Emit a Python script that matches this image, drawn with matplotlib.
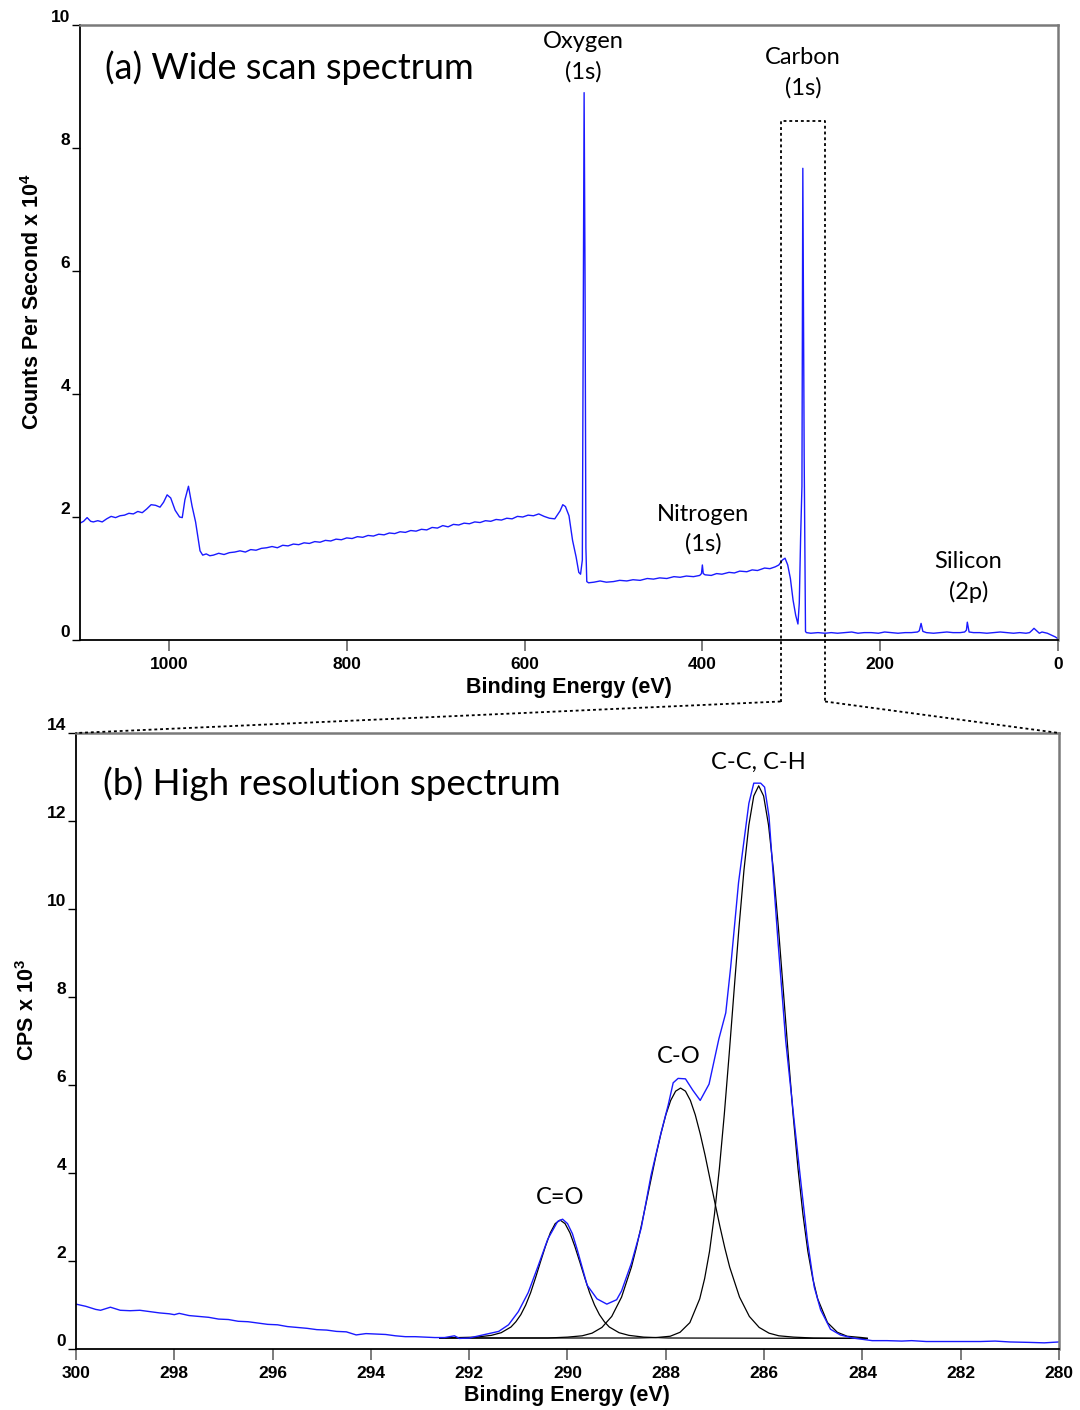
import numpy as np
import matplotlib.pyplot as plt
from matplotlib.lines import Line2D

plt.rcParams['font.family'] = ['Liberation Sans', 'DejaVu Sans']
plt.rcParams['mathtext.fontset'] = 'custom'
plt.rcParams['mathtext.bf'] = 'Liberation Sans:bold'
plt.rcParams['mathtext.rm'] = 'Liberation Sans:bold'

# ---- wide scan: (binding energy eV, counts per second x 1e4) ----
wide_high = [(1100, 1.90), (1096, 1.93), (1092, 1.99), (1088, 1.93), (1085, 1.92),
             (1080, 1.94), (1075, 1.92), (1070, 1.97), (1065, 2.01), (1060, 1.99),
             (1055, 2.02), (1050, 2.03), (1045, 2.06), (1040, 2.05), (1035, 2.09),
             (1030, 2.07), (1025, 2.13), (1020, 2.20), (1015, 2.19), (1010, 2.16),
             (1006, 2.24), (1002, 2.36), (998, 2.31), (993, 2.11), (988, 2.00),
             (985, 1.99), (982, 2.28), (978, 2.50), (974, 2.18), (970, 1.92),
             (965, 1.45), (962, 1.38), (958, 1.40), (954, 1.37)]
wide_mid = [(950, 1.38), (944, 1.41), (938, 1.39), (932, 1.42), (926, 1.43), (920, 1.45),
            (914, 1.43), (908, 1.47), (902, 1.46), (896, 1.49), (890, 1.50), (884, 1.52),
            (878, 1.50), (872, 1.54), (866, 1.53), (860, 1.56), (854, 1.55), (848, 1.58),
            (842, 1.57), (836, 1.60), (830, 1.59), (824, 1.62), (818, 1.61), (812, 1.64),
            (806, 1.63), (800, 1.66), (794, 1.65), (788, 1.68), (782, 1.67), (776, 1.70),
            (770, 1.69), (764, 1.72), (758, 1.71), (752, 1.74), (746, 1.73), (740, 1.76),
            (734, 1.75), (728, 1.78), (722, 1.77), (716, 1.80), (710, 1.79), (704, 1.83),
            (698, 1.82), (692, 1.86), (686, 1.84), (680, 1.88), (674, 1.87), (668, 1.90),
            (662, 1.89), (656, 1.92), (650, 1.91), (644, 1.94), (638, 1.93), (632, 1.96),
            (626, 1.95), (620, 1.98), (614, 1.97), (608, 2.01), (602, 2.00), (596, 2.03),
            (590, 2.02), (584, 2.05), (578, 2.01), (572, 1.98), (566, 1.97), (560, 2.10),
            (557, 2.20), (554, 2.17), (550, 2.02), (546, 1.62), (542, 1.35), (539, 1.10),
            (537, 1.07), (535, 1.30), (534, 5.00), (533, 8.90), (532, 6.00), (531, 1.50),
            (530, 0.95), (528, 0.93)]
wide_low = [(522, 0.94), (515, 0.96), (508, 0.94), (500, 0.95), (493, 0.97), (485, 0.96),
            (478, 0.98), (470, 0.97), (462, 1.00), (455, 0.99), (448, 1.01), (440, 1.00),
            (432, 1.03), (425, 1.02), (418, 1.04), (410, 1.03), (403, 1.05), (401, 1.08),
            (400, 1.22), (399, 1.08), (397, 1.06), (390, 1.05), (384, 1.08), (378, 1.07),
            (370, 1.10), (364, 1.09), (358, 1.12), (350, 1.11), (344, 1.14), (338, 1.13),
            (330, 1.17), (324, 1.16), (318, 1.19), (314, 1.22), (310, 1.30), (307, 1.33),
            (304, 1.22), (301, 1.00), (298, 0.65), (295, 0.40), (292.5, 0.26), (291, 0.60),
            (289.5, 1.66), (288.0, 2.50), (287.0, 7.67), (285.5, 3.00), (284.0, 0.14),
            (283, 0.12), (278, 0.11), (270, 0.12), (262, 0.11), (255, 0.12), (248, 0.11),
            (240, 0.12), (232, 0.13), (225, 0.11), (218, 0.12), (210, 0.12), (202, 0.11),
            (195, 0.13), (188, 0.12), (180, 0.11), (172, 0.12), (165, 0.12), (158, 0.13),
            (156, 0.15), (154, 0.27), (152, 0.14), (148, 0.12), (140, 0.11), (132, 0.12),
            (125, 0.13), (118, 0.12), (110, 0.12), (105, 0.13), (103, 0.16), (102, 0.29),
            (100, 0.13), (95, 0.12), (88, 0.12), (80, 0.11), (72, 0.12), (65, 0.13),
            (58, 0.12), (50, 0.11), (43, 0.12), (36, 0.11), (32, 0.12), (29, 0.16),
            (27, 0.19), (24, 0.15), (21, 0.11), (18, 0.13), (15, 0.12), (12, 0.11),
            (9, 0.09), (6, 0.07), (3, 0.05), (1, 0.03), (0, 0.02)]

# ---- high resolution C 1s (binding energy eV, CPS x 1e3) ----
hr_be = [300.0, 299.8, 299.6, 299.5, 299.3, 299.1, 298.9, 298.7, 298.5, 298.3, 298.1, 298.0,
         297.9, 297.7, 297.5, 297.3, 297.1, 296.9, 296.7, 296.5, 296.3, 296.1, 295.9, 295.7,
         295.5, 295.3, 295.1, 294.9, 294.7, 294.5, 294.3, 294.1, 293.9, 293.7, 293.5, 293.3,
         293.1, 292.9, 292.7, 292.5, 292.3, 292.2, 292.0, 291.8, 291.6, 291.4, 291.2, 291.0,
         290.8, 290.6, 290.4, 290.2, 290.1, 290.0, 289.9, 289.8, 289.6, 289.4, 289.2, 289.0,
         288.9, 288.7, 288.5, 288.3, 288.1, 287.95, 287.85, 287.75, 287.6, 287.45, 287.3,
         287.12, 286.92, 286.78, 286.68, 286.52, 286.31, 286.21, 286.07, 285.99, 285.9,
         285.72, 285.56, 285.39, 285.25, 285.12, 284.98, 284.85, 284.65, 284.45, 284.2, 284.0,
         283.8, 283.5, 283.2, 283.0, 282.7, 282.4, 282.0, 281.6, 281.3, 281.0, 280.6, 280.3,
         280.0]
hr_cps = [1.02, 0.97, 0.90, 0.88, 0.95, 0.88, 0.87, 0.88, 0.85, 0.82, 0.80, 0.78,
          0.81, 0.76, 0.74, 0.72, 0.68, 0.67, 0.63, 0.62, 0.59, 0.56, 0.55, 0.51,
          0.49, 0.47, 0.44, 0.43, 0.40, 0.39, 0.32, 0.35, 0.34, 0.33, 0.30, 0.28,
          0.28, 0.27, 0.26, 0.26, 0.30, 0.24, 0.25, 0.30, 0.35, 0.40, 0.55, 0.85,
          1.28, 1.88, 2.50, 2.90, 2.95, 2.85, 2.62, 2.25, 1.45, 1.14, 1.02, 1.12,
          1.32, 1.95, 2.75, 3.95, 4.90, 5.55, 6.05, 6.15, 6.14, 5.88, 5.65,
          6.02, 7.05, 7.64, 8.68, 10.6, 12.4, 12.86, 12.86, 12.77, 12.1,
          9.3, 7.0, 5.2, 3.77, 2.48, 1.41, 0.89, 0.45, 0.32, 0.25, 0.22,
          0.19, 0.19, 0.18, 0.19, 0.17, 0.17, 0.17, 0.17, 0.18, 0.16, 0.15, 0.14,
          0.16]

# fitted components
co2_be = [292.6, 291.85, 291.55, 291.35, 291.15, 291.05, 290.95, 290.85, 290.75, 290.65,
          290.55, 290.45, 290.35, 290.25, 290.15, 290.05, 289.95, 289.85, 289.75, 289.65,
          289.55, 289.45, 289.35, 289.25, 289.15, 288.95, 288.75, 288.45, 287.95, 283.9]
co2_cps = [0.25, 0.27, 0.31, 0.37, 0.50, 0.62, 0.78, 1.00, 1.28, 1.62,
           1.98, 2.33, 2.64, 2.85, 2.93, 2.85, 2.64, 2.33, 1.98, 1.62,
           1.28, 1.00, 0.78, 0.62, 0.50, 0.37, 0.31, 0.27, 0.25, 0.24]

co_be = [292.6, 290.4, 290.0, 289.7, 289.5, 289.3, 289.1, 288.9, 288.7, 288.6, 288.5, 288.4,
         288.3, 288.2, 288.1, 288.0, 287.9, 287.8, 287.7, 287.6, 287.5, 287.4, 287.3, 287.2,
         287.1, 287.0, 286.9, 286.8, 286.7, 286.5, 286.3, 286.1, 285.9, 285.7, 285.4, 285.0,
         283.9]
co_cps = [0.25, 0.25, 0.27, 0.30, 0.36, 0.49, 0.74, 1.18, 1.86, 2.30, 2.79, 3.32,
          3.86, 4.40, 4.89, 5.32, 5.65, 5.86, 5.93, 5.86, 5.65, 5.32, 4.89, 4.40,
          3.86, 3.32, 2.79, 2.30, 1.86, 1.18, 0.74, 0.49, 0.36, 0.30, 0.27, 0.25,
          0.24]

cc_be = [292.6, 288.6, 288.2, 287.91, 287.71, 287.51, 287.31, 287.21, 287.11, 287.01, 286.91,
         286.81, 286.71, 286.61, 286.51, 286.41, 286.31, 286.21, 286.11, 286.01, 285.91,
         285.81, 285.71, 285.61, 285.51, 285.41, 285.31, 285.21, 285.11, 285.01, 284.91,
         284.71, 284.51, 284.31, 284.01, 283.9]
cc_cps = [0.25, 0.25, 0.26, 0.29, 0.38, 0.60, 1.14, 1.60, 2.22, 3.06, 4.10,
          5.33, 6.71, 8.16, 9.59, 10.88, 11.91, 12.57, 12.80, 12.57, 11.91,
          10.88, 9.59, 8.16, 6.71, 5.33, 4.10, 3.06, 2.22, 1.60, 1.14,
          0.60, 0.38, 0.29, 0.26, 0.24]

wide_peaks = [("Oxygen\n(1s)", 534, 0.948), ("Carbon\n(1s)", 287, 0.922),
              ("Nitrogen\n(1s)", 399, 0.180), ("Silicon\n(2p)", 101, 0.102)]
hr_peaks = [("C-C, C-H", 286.12, 13.34), ("C-O", 287.73, 6.64), ("C=O", 290.15, 3.45)]

LABEL_FONT = ['Lato', 'DejaVu Sans']
W, H = 1080, 1410
DOTS = (0, (1.6, 1.6))


def style_axes(ax):
    for side in ['left', 'bottom']:
        ax.spines[side].set_color('black')
        ax.spines[side].set_linewidth(1.3)
    for side in ['top', 'right']:
        ax.spines[side].set_color('#7a7a7a')
        ax.spines[side].set_linewidth(1.8)
    ax.tick_params(axis='x', direction='out', length=8, width=1.2, color='#666666',
                   pad=4, labelsize=12.5)
    ax.tick_params(axis='y', direction='out', length=6, width=1, color='black',
                   pad=1, labelsize=12.5)
    for lbl in ax.get_xticklabels() + ax.get_yticklabels():
        lbl.set_fontweight('bold')
    for lbl in ax.get_yticklabels():
        lbl.set_va('bottom')


fig = plt.figure(figsize=(W / 100, H / 100), dpi=100)

# ---- (a) wide scan ----
wide = wide_high + wide_mid + wide_low
wide_be = [p[0] for p in wide]
wide_cps = [p[1] for p in wide]

ax1 = fig.add_axes([80 / W, 1 - 640 / H, 978 / W, 615 / H])
ax1.plot(wide_be, wide_cps, color='#1a1aff', lw=1.0)
ax1.set_xlim(1100, 0)
ax1.set_ylim(0, 10)
ax1.set_xticks([1000, 800, 600, 400, 200, 0])
ax1.set_yticks([0, 2, 4, 6, 8, 10])
style_axes(ax1)
ax1.text(0.026, 0.930, "(a) Wide scan spectrum", transform=ax1.transAxes,
         family=LABEL_FONT, fontsize=26, ha='left', va='center')
for txt, x, y in wide_peaks:
    ax1.text(x, y, txt, transform=ax1.get_xaxis_transform(), family=LABEL_FONT,
             fontsize=17, ha='center', va='center', linespacing=1.5)

# zoom box around C 1s
box_x = [312, 312, 262, 262]
box_y = [-1.0, 8.44, 8.44, -1.0]
ax1.plot(box_x, box_y, color='black', lw=1.3, ls=DOTS, clip_on=False)

# ---- (b) high resolution ----
ax2 = fig.add_axes([76 / W, 1 - 1349 / H, 983 / W, 616 / H])
ax2.plot(co2_be, co2_cps, color='black', lw=0.9)
ax2.plot(co_be, co_cps, color='black', lw=0.9)
ax2.plot(cc_be, cc_cps, color='black', lw=0.9)
ax2.plot(hr_be, hr_cps, color='#1a1aff', lw=1.0)
ax2.set_xlim(300, 280)
ax2.set_ylim(0, 14)
ax2.set_xticks(np.arange(300, 279, -2))
ax2.set_yticks(np.arange(0, 15, 2))
style_axes(ax2)
ax2.text(0.0275, 0.917, "(b) High resolution spectrum", transform=ax2.transAxes,
         family=LABEL_FONT, fontsize=26.5, ha='left', va='center')
for txt, x, y in hr_peaks:
    ax2.text(x, y, txt, family=LABEL_FONT, fontsize=17, ha='center', va='center')

# connectors from zoom box down to the corners of panel (b)
to_fig = fig.transFigure.inverted()
for xa, xb in [(box_x[0], 300), (box_x[-1], 280)]:
    pa = to_fig.transform(ax1.transData.transform((xa, box_y[0])))
    pb = to_fig.transform(ax2.transData.transform((xb, 14)))
    fig.add_artist(Line2D([pa[0], pb[0]], [pa[1], pb[1]], transform=fig.transFigure,
                          color='black', lw=1.3, ls=DOTS))

# axis labels
fig.text(569 / W, 1 - 688 / H, "Binding Energy (eV)", fontsize=15.5, fontweight='bold',
         ha='center', va='center')
fig.text(567 / W, 1 - 1396 / H, "Binding Energy (eV)", fontsize=15.5, fontweight='bold',
         ha='center', va='center')
fig.text(33 / W, 1 - 302 / H, r"Counts Per Second x 10$^{\mathbf{4}}$", fontsize=15.5,
         fontweight='bold', rotation=90, ha='center', va='center')
fig.text(28 / W, 1 - 1010 / H, r"CPS x 10$^{\mathbf{3}}$", fontsize=15.5,
         fontweight='bold', rotation=90, ha='center', va='center')

fig.savefig('out.png', dpi=100)
